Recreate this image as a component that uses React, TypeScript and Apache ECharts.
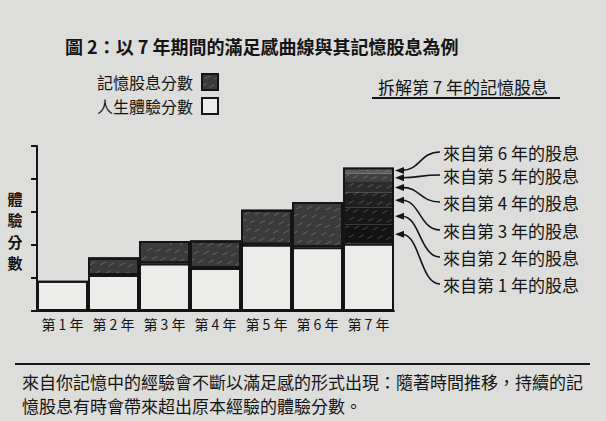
import React, { useEffect, useRef } from "react";
import * as echarts from "echarts";

const FONT = '"Noto Sans CJK TC", "Noto Sans CJK SC", sans-serif';
const INK = "#141414";

const titleText = "圖 2：以 7 年期間的滿足感曲線與其記憶股息為例";
const breakdownTitle = "拆解第 7 年的記憶股息";
const yAxisName = ["體", "驗", "分", "數"];
const years = ["第 1 年", "第 2 年", "第 3 年", "第 4 年", "第 5 年", "第 6 年", "第 7 年"];
const legendNames = ["記憶股息分數", "人生體驗分數"];
// experience score of each year (white part)
const experienceScores = [0.92, 1.09, 1.44, 1.3, 2.01, 1.93, 2.04];
// memory dividend score for years 1-6 (dark part); year 7 is broken down below
const dividendScores: (number | null)[] = [null, 0.53, 0.68, 0.84, 1.06, 1.37, null];
// breakdown of year 7's memory dividend, from year 1 (bottom) to year 6 (top)
const year7Dividends = [0.57, 0.52, 0.45, 0.33, 0.26, 0.18];
const year7Labels = [
  "來自第 1 年的股息",
  "來自第 2 年的股息",
  "來自第 3 年的股息",
  "來自第 4 年的股息",
  "來自第 5 年的股息",
  "來自第 6 年的股息",
];
const year7Colors = ["#121212", "#171717", "#1f1f1f", "#2c2c2c", "#404040", "#5c5c5c"];
const captionLines = [
  "來自你記憶中的經驗會不斷以滿足感的形式出現：隨著時間推移，持續的記",
  "憶股息有時會帶來超出原本經驗的體驗分數。",
];
const yMax = 5;

const labelY = [284, 257, 230, 202, 175, 152];

const hatch = {
  symbol: "rect",
  symbolSize: 1,
  rotation: -0.5,
  color: "rgba(255,255,255,0.2)",
  dashArrayX: [
    [6, 10],
    [0, 9, 6, 1],
  ],
  dashArrayY: [1, 4],
};

export default function App() {
  const ref = useRef<HTMLDivElement>(null);
  useEffect(() => {
    document.body.style.margin = "0";
    document.body.style.background = "#dddddb";
    if (!ref.current) return;
    const chart = echarts.init(ref.current, undefined, { renderer: "svg" });

    const totals = years.map((_, i) => {
      if (i === years.length - 1) {
        return experienceScores[i] + year7Dividends.reduce((a, b) => a + b, 0);
      }
      return experienceScores[i] + (dividendScores[i] ?? 0);
    });

    const last = years.length - 1;
    const series: any[] = [
      {
        name: legendNames[1],
        type: "bar",
        stack: "total",
        data: experienceScores,
        barCategoryGap: 0,
        itemStyle: { color: "#ececea", borderColor: INK, borderWidth: 2 },
        silent: true,
      },
      {
        name: legendNames[0],
        type: "bar",
        stack: "total",
        data: dividendScores.map((v) => (v == null ? "-" : v)),
        itemStyle: { color: "#3b3b3b", borderColor: INK, borderWidth: 2, decal: hatch },
        silent: true,
      },
      ...year7Dividends.map((v, k) => ({
        name: year7Labels[k],
        type: "bar",
        stack: "total",
        data: years.map((_, i) => (i === last ? v : "-")),
        itemStyle: { color: year7Colors[k], borderWidth: 0, decal: hatch },
        silent: true,
      })),
      {
        name: "outline",
        type: "bar",
        data: totals,
        barGap: "-100%",
        z: 5,
        itemStyle: { color: "rgba(0,0,0,0)", borderColor: INK, borderWidth: 2 },
        silent: true,
      },
    ];

    chart.setOption({
      animation: false,
      backgroundColor: "#dddddb",
      textStyle: { fontFamily: FONT },
      title: {
        text: titleText,
        left: 60,
        top: 32,
        textStyle: { fontSize: 18, fontWeight: "bold", color: INK, fontFamily: FONT },
      },
      legend: {
        data: legendNames,
        orient: "vertical",
        left: 92,
        top: 68,
        align: "right",
        icon: "rect",
        itemWidth: 16,
        itemHeight: 16,
        itemGap: 6,
        selectedMode: false,
        textStyle: { fontSize: 16, color: INK, fontFamily: FONT, padding: [0, 4, 0, 0] },
      },
      grid: { left: 37, right: 212, top: 146, height: 165 },
      xAxis: {
        type: "category",
        data: years,
        axisLine: { lineStyle: { color: INK, width: 2 } },
        axisTick: { show: false },
        axisLabel: { fontSize: 14, color: INK, margin: 6, interval: 0, fontFamily: FONT },
      },
      yAxis: {
        type: "value",
        min: 0,
        max: yMax,
        interval: 1,
        axisLine: { show: true, lineStyle: { color: INK, width: 2 } },
        axisTick: { show: true, length: 6, lineStyle: { color: INK, width: 2 } },
        axisLabel: { show: false },
        splitLine: { show: false },
      },
      series,
    });

    // annotation graphics anchored to bar 7 through the axes
    const p6 = chart.convertToPixel({ xAxisIndex: 0, yAxisIndex: 0 }, [last - 1, 0]) as number[];
    const p7 = chart.convertToPixel({ xAxisIndex: 0, yAxisIndex: 0 }, [last, 0]) as number[];
    const band = p7[0] - p6[0];
    const xEdge = p7[0] + band / 2;
    const graphics: any[] = [];
    let cum = experienceScores[last];
    year7Dividends.forEach((v, k) => {
      const mid = cum + v / 2;
      cum += v;
      const ya = chart.convertToPixel({ yAxisIndex: 0 }, mid) as number;
      const yl = labelY[k];
      graphics.push({
        type: "polygon",
        shape: {
          points: [
            [xEdge + 1, ya],
            [xEdge + 10, ya - 3.5],
            [xEdge + 10, ya + 3.5],
          ],
        },
        style: { fill: INK },
        z: 10,
      });
      graphics.push({
        type: "bezierCurve",
        shape: {
          x1: xEdge + 8,
          y1: ya,
          cpx1: xEdge + 26,
          cpy1: ya,
          cpx2: 420,
          cpy2: yl,
          x2: 440,
          y2: yl,
        },
        style: { stroke: INK, lineWidth: 1.6, fill: "none" },
        z: 10,
      });
      graphics.push({
        type: "text",
        x: 443,
        y: yl,
        style: {
          text: year7Labels[k],
          fontSize: 17,
          fill: INK,
          fontFamily: FONT,
          verticalAlign: "middle",
        },
      });
    });

    yAxisName.forEach((ch, i) => {
      graphics.push({
        type: "text",
        x: 15,
        y: 198 + i * 21.5,
        style: {
          text: ch,
          fontSize: 15,
          fontWeight: "bold",
          fill: INK,
          fontFamily: FONT,
          align: "center",
          verticalAlign: "middle",
        },
      });
    });
    graphics.push({
      type: "text",
      x: 378,
      y: 86,
      style: { text: breakdownTitle, fontSize: 17, fill: INK, fontFamily: FONT, verticalAlign: "middle" },
    });
    graphics.push({
      type: "line",
      shape: { x1: 372, y1: 98, x2: 560, y2: 98 },
      style: { stroke: INK, lineWidth: 2 },
    });
    graphics.push({
      type: "line",
      shape: { x1: 15, y1: 364, x2: 590, y2: 364 },
      style: { stroke: INK, lineWidth: 2 },
    });
    captionLines.forEach((t, i) => {
      graphics.push({
        type: "text",
        x: 22,
        y: 381 + i * 24,
        style: { text: t, fontSize: 17, fill: INK, fontFamily: FONT, verticalAlign: "middle" },
      });
    });

    chart.setOption({ graphic: graphics });

    return () => chart.dispose();
  }, []);

  return (
    <div
      ref={ref}
      style={{ position: "absolute", left: 0, top: 0, width: 606, height: 421 }}
    />
  );
}
